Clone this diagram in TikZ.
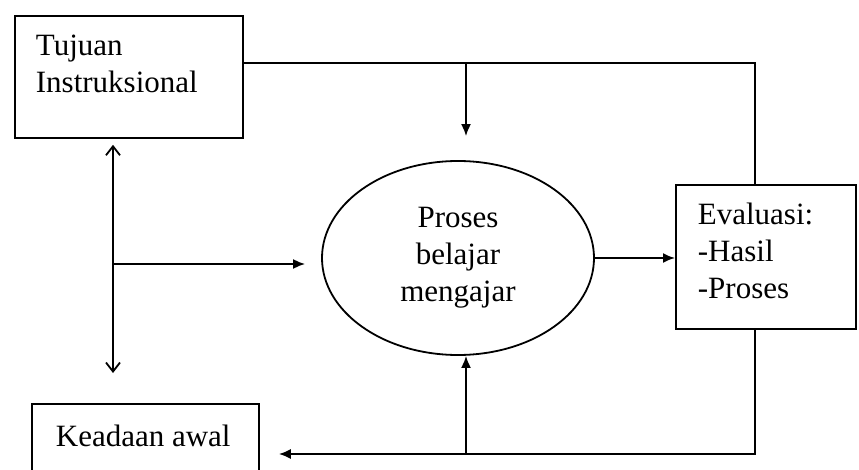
\documentclass[tikz,border=0pt]{standalone}
\usepackage{fontspec}
\setmainfont{Liberation Serif}
\usetikzlibrary{arrows.meta,shapes.geometric}
\begin{document}
\begin{tikzpicture}[x=1pt, y=-1pt, line width=1.8pt,
	box/.style={draw, rectangle, inner sep=0pt},
	txt/.style={inner sep=0pt, align=left, font=\fontsize{31pt}{37pt}\selectfont},
	arr/.style={-{Latex[length=12pt,width=10pt]}},
	darr/.style={{Straight Barb[length=9pt,width=14pt]}-{Straight Barb[length=9pt,width=14pt]}}]
	\useasboundingbox (0,0) rectangle (859,470);
	\clip (0,0) rectangle (859,470);

	% boxes
	\node[box, anchor=north west, minimum width=228pt, minimum height=122pt] (tujuan) at (14,15) {};
	\node[txt, anchor=north west] (tujuantxt) at (35,34.5) {Tujuan\\Instruksional};
	\node[box, anchor=north west, minimum width=180pt, minimum height=144pt] (evaluasi) at (675,184) {};
	\node[txt, anchor=north west] (evaltxt) at (697,202.5) {Evaluasi:\\-Hasil\\-Proses};
	\node[box, anchor=north west, minimum width=227pt, minimum height=100pt] (keadaan) at (31,403) {};
	\node[txt, anchor=base west] (keadaantxt) at (55,446) {Keadaan awal};
	\node[draw, ellipse, inner sep=0pt, minimum width=272pt, minimum height=194pt,
		txt, align=center] (proses) at (458,258) {Proses\\belajar\\mengajar};

	\coordinate (topR) at (755,63);
	\coordinate (topM) at (466,63);
	\coordinate (midL) at (113,264);
	\coordinate (botR) at (755,454);
	\coordinate (botM) at (466,454);

	% top loop
	\draw (tujuan.east |- topR) -- (topR) -- (evaluasi.north -| topR);
	\draw[arr, shorten >=24pt] (topM) -- (topM |- proses.north);

	% left side
	\draw[darr, shorten <=6pt, shorten >=30pt] (tujuan.south -| midL) -- (keadaan.north -| midL);
	\draw[arr, shorten >=16pt] (midL) -- (midL -| proses.west);

	\draw[arr] (proses.east) -- (proses.east -| evaluasi.west);

	% bottom loop
	\draw[arr, shorten >=19pt] (evaluasi.south -| botR) -- (botR) -- (botR -| keadaan.east);
	\draw[arr] (botM) -- (botM |- proses.south);
\end{tikzpicture}
\end{document}
